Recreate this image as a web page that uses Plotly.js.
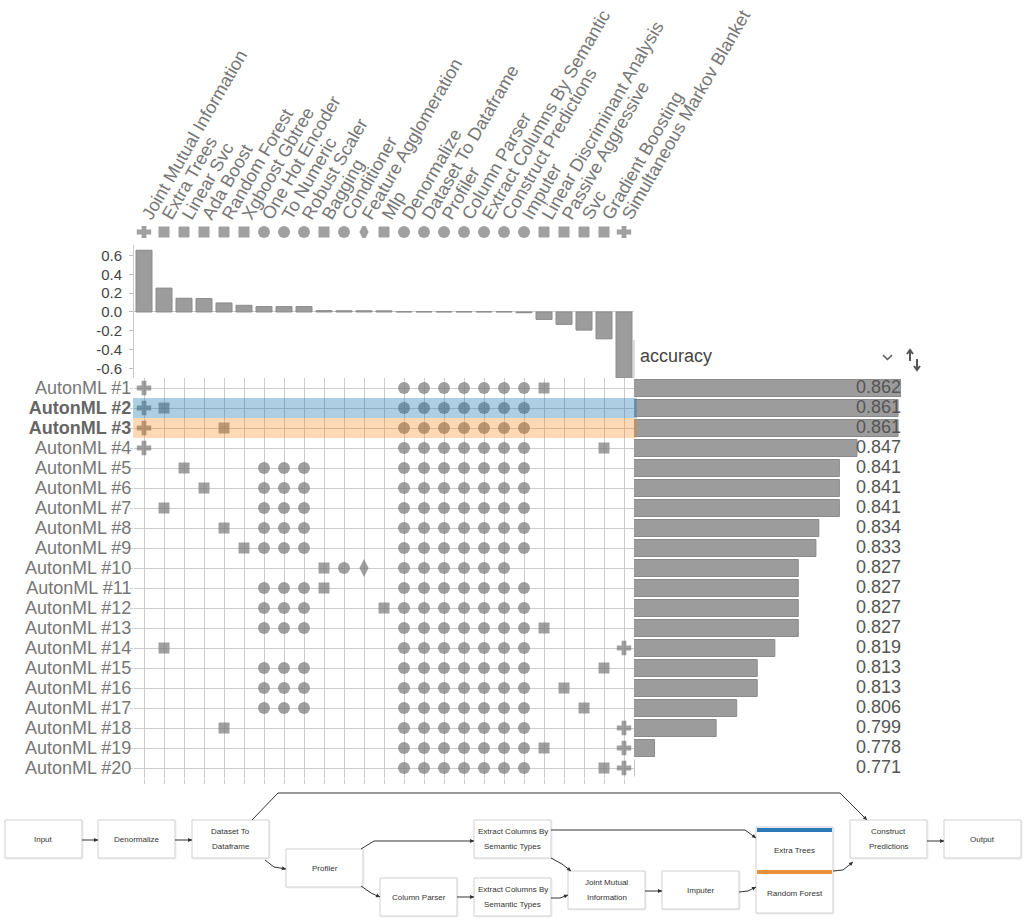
<!DOCTYPE html>
<html><head><meta charset="utf-8">
<script src="https://cdn.plot.ly/plotly-3.0.1.min.js"></script>
<style>html,body{margin:0;padding:0;background:#fff}#chart{width:1024px;height:923px}</style>
</head><body><div id="chart"></div>
<script>
// ---------------- DATA ----------------
const components = ['Joint Mutual Information','Extra Trees','Linear Svc','Ada Boost','Random Forest','Xgboost Gbtree','One Hot Encoder','To Numeric','Robust Scaler','Bagging','Conditioner','Feature Agglomeration','Mlp','Denormalize','Dataset To Dataframe','Profiler','Column Parser','Extract Columns By Semantic','Construct Predictions','Imputer','Linear Discriminant Analysis','Passive Aggressive','Svc','Gradient Boosting','Simultaneous Markov Blanket'];
const componentKinds = ['selector','model','model','model','model','model','transform','transform','transform','model','transform','extractor','model','transform','transform','transform','transform','transform','transform','transform','model','model','model','model','selector'];
const importance = [0.657,0.254,0.146,0.143,0.096,0.071,0.057,0.057,0.057,0.014,0.013,0.013,0.012,0.002,0.002,0.002,0.002,0.002,0.002,-0.008,-0.079,-0.132,-0.193,-0.286,-0.705];
const importanceTickVals = [0.6,0.4,0.2,0.0,-0.2,-0.4,-0.6];
const importanceTickText = ['0.6','0.4','0.2','0.0','-0.2','-0.4','-0.6'];

const pipelineNames = ['AutonML #1','AutonML #2','AutonML #3','AutonML #4','AutonML #5','AutonML #6','AutonML #7','AutonML #8','AutonML #9','AutonML #10','AutonML #11','AutonML #12','AutonML #13','AutonML #14','AutonML #15','AutonML #16','AutonML #17','AutonML #18','AutonML #19','AutonML #20'];
const accuracy = [0.862,0.861,0.861,0.847,0.841,0.841,0.841,0.834,0.833,0.827,0.827,0.827,0.827,0.819,0.813,0.813,0.806,0.799,0.778,0.771];
const highlighted = ['AutonML #2','AutonML #3'];
const metricName = 'accuracy';
// component indices used by each pipeline
const pipelineSteps = [
  [0,13,14,15,16,17,18,19,20],
  [0,1,13,14,15,16,17,18,19],
  [0,4,13,14,15,16,17,18,19],
  [0,13,14,15,16,17,18,19,23],
  [2,6,7,8,13,14,15,16,17,18,19],
  [3,6,7,8,13,14,15,16,17,18,19],
  [1,6,7,8,13,14,15,16,17,18,19],
  [4,6,7,8,13,14,15,16,17,18,19],
  [5,6,7,8,13,14,15,16,17,18,19],
  [9,10,11,13,14,15,16,17,18],
  [6,7,8,9,13,14,15,16,17,18,19],
  [6,7,8,12,13,14,15,16,17,18,19],
  [6,7,8,13,14,15,16,17,18,19,20],
  [1,13,14,15,16,17,18,19,24],
  [6,7,8,13,14,15,16,17,18,19,23],
  [6,7,8,13,14,15,16,17,18,19,21],
  [6,7,8,13,14,15,16,17,18,19,22],
  [4,13,14,15,16,17,18,19,24],
  [13,14,15,16,17,18,19,20,24],
  [13,14,15,16,17,18,19,23,24]
];

// pipeline graph (bottom)
const dagNodes = ['Input','Denormalize','Dataset To|Dataframe','Profiler','Column Parser','Extract Columns By|Semantic Types','Extract Columns By|Semantic Types','Joint Mutual|Information','Imputer','Extra Trees','Random Forest','Construct|Predictions','Output'];
const dagEdges = [[0,1],[1,2],[2,3],[2,11],[3,5],[3,4],[4,6],[5,9],[5,7],[6,7],[7,8],[8,10],[10,11],[11,12]];
const dagHighlight = {9:0, 10:1};

// ---------------- STYLE / LAYOUT ----------------
const W = 1024, H = 923;
const X = px => px / W, Y = py => 1 - py / H;
const FONT = '"Liberation Sans", Arial, Helvetica, sans-serif';
const GRID = '#cccccc';
const MARK = '#777777';
const highlightFills = ['rgba(31,119,180,0.36)','rgba(255,127,14,0.30)'];
const highlightSolid = ['#2b79b5','#e8913a'];
const symbolOf = {selector:'cross', model:'square', transform:'circle', extractor:'diamond-tall'};
const sizeOf = {selector:12, model:11, transform:12, extractor:13};

const colDomain = [X(134), X(634)];
const colRange = [-0.5, components.length - 0.5];
const rowRange = [pipelineNames.length + 0.5, 0.5];
const matrixDomainY = [Y(778), Y(378)];

const colIdx = components.map((_, i) => i);
const rowIdx = pipelineNames.map((_, i) => i + 1);

// matrix points
const mx = [], my = [], msym = [], msize = [];
pipelineSteps.forEach((steps, r) => steps.forEach(c => {
  mx.push(c); my.push(r + 1);
  msym.push(symbolOf[componentKinds[c]]); msize.push(sizeOf[componentKinds[c]]);
}));

const accMin = Math.min(...accuracy), accMax = Math.max(...accuracy);

const traces = [
  { type:'bar', x: colIdx, y: importance, xaxis:'x2', yaxis:'y', width:0.8,
    marker:{color:'#9c9c9c', line:{color:'#8a8a8a', width:1}} },
  { type:'scatter', mode:'markers', x: colIdx, y: colIdx.map(() => 0), xaxis:'x3', yaxis:'y3',
    marker:{symbol: componentKinds.map(k => symbolOf[k]), size: componentKinds.map(k => sizeOf[k]), color: MARK, line:{width:0}} },
  { type:'scatter', mode:'markers', x: mx, y: my, xaxis:'x', yaxis:'y2',
    marker:{symbol: msym, size: msize, color: MARK, line:{width:0}} },
  { type:'bar', orientation:'h', x: accuracy, y: rowIdx, xaxis:'x4', yaxis:'y4', width:0.85,
    marker:{color:'#9c9c9c', line:{color:'#8a8a8a', width:1}} },
  { type:'scatter', mode:'text', x: accuracy.map(() => accMax), y: rowIdx, xaxis:'x4', yaxis:'y4',
    text: accuracy.map(v => v.toFixed(3)), textposition:'middle left', cliponaxis:false,
    textfont:{family:FONT, size:18, color:'#555'} }
];

const tickText = pipelineNames.map(n => highlighted.includes(n) ? '<b><span style="color:#666">' + n + '</span></b>' : n);

const shapes = [], annotations = [];

highlighted.forEach((name, k) => {
  const r = pipelineNames.indexOf(name) + 1;
  shapes.push({type:'rect', xref:'paper', yref:'y2', x0:X(133), x1:X(637), y0:r - 0.5, y1:r + 0.5,
    fillcolor: highlightFills[k], line:{width:0}, layer:'above'});
});

// metric header
shapes.push({type:'line', xref:'paper', yref:'paper', x0:X(634), x1:X(634), y0:Y(340), y1:Y(378), line:{color:'#bbb', width:1}});
annotations.push({xref:'paper', yref:'paper', x:X(638), y:Y(356), xanchor:'left', yanchor:'middle', showarrow:false,
  text: metricName, font:{family:FONT, size:18, color:'#444'}});
const pathStr = pts => pts.map((p, i) => (i ? 'L' : 'M') + X(p[0]) + ',' + Y(p[1])).join(' ');
shapes.push({type:'path', xref:'paper', yref:'paper', path: pathStr([[883,355],[887.5,359.5],[892,355]]), line:{color:'#555', width:1.5}});
shapes.push({type:'path', xref:'paper', yref:'paper', path: pathStr([[910,361],[910,350]]), line:{color:'#555', width:2}});
shapes.push({type:'path', xref:'paper', yref:'paper', path: pathStr([[907,354],[910,350],[913,354]]), line:{color:'#555', width:2}});
shapes.push({type:'path', xref:'paper', yref:'paper', path: pathStr([[917,359],[917,370]]), line:{color:'#555', width:2}});
shapes.push({type:'path', xref:'paper', yref:'paper', path: pathStr([[914,366],[917,370],[920,366]]), line:{color:'#555', width:2}});

// ---- pipeline graph layout (pixel boxes: left, top, width, height)
const nodeBox = [
  [5,820,77,38],[98,820,77,38],[192,820,77,38],[286,849,77,38],[380,878,77,38],
  [474,820,77,38],[474,878,77,38],[568,871,77,38],[662,871,77,38],
  [756,827,77,42],[756,869,77,44],[850,820,77,38],[944,820,77,38]
];
const edgeRoutes = [
  [[82,840],[98,840]],
  [[175,840],[192,840]],
  [[265,860],[274,867],[286,869]],
  [[252,820],[278,793],[840,793],[867,820]],
  [[361,849],[374,841],[474,841]],
  [[361,886],[371,893],[380,897]],
  [[457,897],[474,897]],
  [[551,830],[745,830],[756,838]],
  [[551,858],[562,864],[571,871]],
  [[551,898],[560,898],[568,895]],
  [[645,891],[662,891]],
  [[739,892],[748,891],[756,887]],
  [[833,871],[843,870],[853,862]],
  [[927,841],[944,841]]
];

nodeBox.forEach((b, i) => {
  const [l, t, w, h] = b;
  if (i !== 10) {
    const top = t;
    const bot = (i === 9) ? nodeBox[10][1] + nodeBox[10][3] : t + h;
    shapes.push({type:'rect', xref:'paper', yref:'paper', x0:X(l+1), x1:X(l+w+1), y0:Y(bot+1), y1:Y(top+1), line:{color:'#eeeeee', width:1}, fillcolor:'rgba(0,0,0,0)'});
    shapes.push({type:'rect', xref:'paper', yref:'paper', x0:X(l), x1:X(l+w), y0:Y(bot), y1:Y(top), line:{color:'#cfcfcf', width:1}, fillcolor:'#fff'});
  }
  if (i in dagHighlight) {
    shapes.push({type:'rect', xref:'paper', yref:'paper', x0:X(l+1), x1:X(l+w-1), y0:Y(t+5), y1:Y(t+1), line:{width:0}, fillcolor: highlightSolid[dagHighlight[i]]});
  }
  const lines = dagNodes[i].split('|');
  const cy = (i in dagHighlight) ? t + h / 2 + 2 : t + h / 2;
  lines.forEach((txt, k) => {
    const yy = cy + (k - (lines.length - 1) / 2) * 15;
    annotations.push({xref:'paper', yref:'paper', x:X(l + w / 2), y:Y(yy), xanchor:'center', yanchor:'middle', showarrow:false,
      text: txt, font:{family:FONT, size:8, color:'#333'}});
  });
});

edgeRoutes.forEach(pts => {
  shapes.push({type:'path', xref:'paper', yref:'paper', path: pathStr(pts), line:{color:'#333', width:1}});
  const e = pts[pts.length - 1], p = pts[pts.length - 2];
  const dx = p[0] - e[0], dy = p[1] - e[1], L = Math.hypot(dx, dy);
  annotations.push({xref:'paper', yref:'paper', x:X(e[0]), y:Y(e[1]), ax: dx / L * 5, ay: dy / L * 5, axref:'pixel', ayref:'pixel',
    showarrow:true, arrowhead:2, arrowsize:0.8, arrowwidth:1, arrowcolor:'#333', text:'', standoff:0});
});

const layout = {
  width: W, height: H, margin:{l:0, r:0, t:0, b:0},
  paper_bgcolor:'#ffffff', plot_bgcolor:'rgba(0,0,0,0)',
  showlegend:false, hovermode:false,
  font:{family:FONT, color:'#777'},
  xaxis:{domain:colDomain, range:colRange, anchor:'y2', tickmode:'linear', tick0:0, dtick:1,
    showgrid:true, gridcolor:GRID, gridwidth:1, ticks:'outside', ticklen:5, tickcolor:GRID,
    showticklabels:false, zeroline:false, showline:false},
  yaxis2:{domain:matrixDomainY, range:rowRange, anchor:'x', tickmode:'array', tickvals:rowIdx, ticktext:tickText,
    showgrid:true, gridcolor:GRID, gridwidth:1, ticks:'outside', ticklen:3, tickcolor:GRID, ticklabelstandoff:-5,
    tickfont:{family:FONT, size:18, color:'#777'}, zeroline:false, showline:false},
  xaxis2:{domain:colDomain, range:colRange, anchor:'y', visible:false},
  yaxis:{domain:[Y(378), Y(245)], range:[-0.703, 0.713], anchor:'x2', tickmode:'array',
    tickvals:importanceTickVals, ticktext:importanceTickText, ticks:'outside', ticklen:4, tickcolor:'#bbb', ticklabelstandoff:4,
    showline:true, linecolor:'#cccccc', zeroline:true, zerolinecolor:'#cccccc', zerolinewidth:1, showgrid:false,
    tickfont:{family:FONT, size:15, color:'#444'}},
  xaxis3:{domain:colDomain, range:colRange, anchor:'y3', side:'top', tickmode:'array', tickvals:colIdx, ticktext:components,
    tickangle:-60, ticks:'', showgrid:false, zeroline:false, showline:false, ticklabelstandoff:-4,
    tickfont:{family:FONT, size:18, color:'#777'}},
  yaxis3:{domain:[Y(238), Y(226)], range:[-0.5, 0.5], anchor:'x3', visible:false},
  xaxis4:{domain:[X(634), X(901)], range:[accMin, accMax], anchor:'y4', visible:false},
  yaxis4:{domain:matrixDomainY, range:rowRange, anchor:'x4', visible:false},
  shapes, annotations
};

Plotly.newPlot('chart', traces, layout, {displayModeBar:false, staticPlot:true});
</script>
</body></html>
